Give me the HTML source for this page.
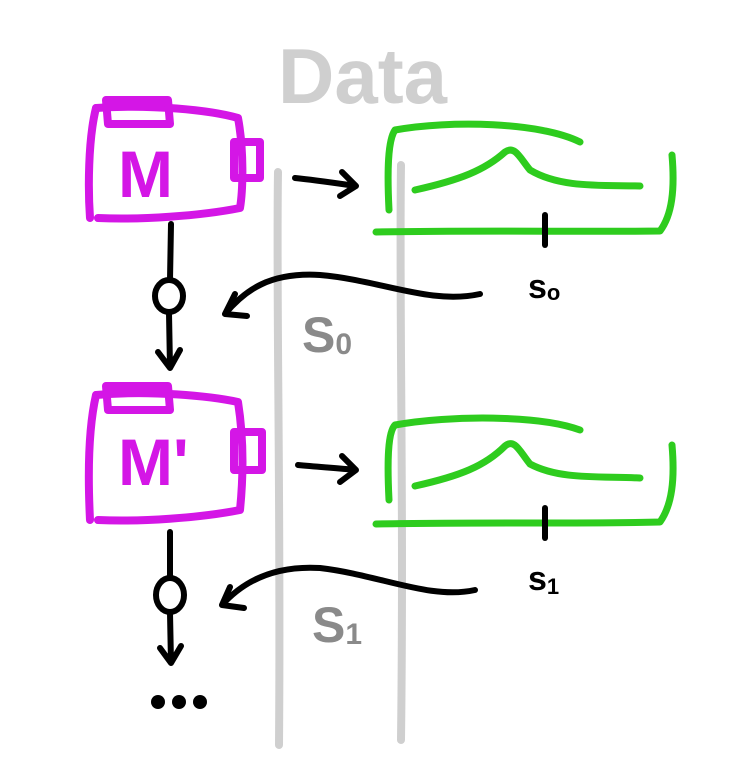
<!DOCTYPE html>
<html><head><meta charset="utf-8"><style>
html,body{margin:0;padding:0;background:#fff;width:754px;height:761px;overflow:hidden}
text{font-family:"Liberation Sans",sans-serif;font-weight:bold}
</style></head><body>
<svg width="754" height="761" viewBox="0 0 754 761" fill="none" stroke-linecap="round" stroke-linejoin="round">
<g>
<text x="278" y="103" font-size="78" fill="#cfcfcf" stroke="none">Data</text>
<path d="M278 172 C276 300 281 500 279 745" stroke="#cfcfcf" stroke-width="8"/>
<path d="M401 165 C399 300 404 500 401 740" stroke="#cfcfcf" stroke-width="8"/>
</g>
<g stroke="#d416e6" stroke-width="8">
<path d="M96 108 C88 140 88 190 90 218"/>
<path d="M96 108 C150 104 210 110 238 118 C244 150 243 190 240 208 C200 216 140 220 98 218"/>
<path d="M106 100 L168 100 L170 124 L108 124 Z"/>
<path d="M234 142 L260 142 L260 178 L234 178 Z"/>
<text x="118" y="197" font-size="66" fill="#d416e6" stroke="none">M</text>
</g>
<g stroke="#d416e6" stroke-width="8">
<path d="M96 395 C88 430 88 480 90 520"/>
<path d="M96 395 C150 390 210 396 238 402 C244 440 243 480 240 510 C200 518 140 522 98 520"/>
<path d="M106 386 L168 386 L170 410 L108 410 Z"/>
<path d="M234 432 L262 432 L262 470 L234 470 Z"/>
<text x="118" y="485" font-size="66" fill="#d416e6" stroke="none">M'</text>
</g>
<g stroke="#000" stroke-width="6">
<path d="M171 224 L170 280"/>
<ellipse cx="169" cy="296" rx="14" ry="16"/>
<path d="M169 313 L170 368 M158 352 L170 368 L180 350"/>
<path d="M170 532 L170 578"/>
<ellipse cx="170" cy="595" rx="14" ry="17"/>
<path d="M170 613 L171 663 M160 648 L171 663 L181 646"/>
<path d="M295 178 C315 180 335 183 356 186 M342 172 L356 186 L340 196"/>
<path d="M298 465 C318 467 338 468 356 470 M342 456 L356 470 L340 482"/>
<path d="M480 294 C430 305 380 280 320 275 C270 272 245 290 225 314 M235 294 L225 314 L247 316"/>
<path d="M475 590 C430 600 380 575 320 568 C270 565 240 585 222 605 M230 587 L222 605 L244 608"/>
</g>
<g fill="#000">
<circle cx="158" cy="702" r="7"/><circle cx="179" cy="702" r="7"/><circle cx="200" cy="702" r="7"/>
</g>
<g stroke="#2ecc1e" stroke-width="7">
<path d="M389 210 C387 170 388 140 395 130 C450 120 540 122 580 142"/>
<path d="M415 190 C460 180 485 170 505 152 C515 145 520 158 530 170 C560 188 600 185 640 186"/>
<path d="M376 232 C480 230 580 232 660 231 C672 215 675 190 672 155"/>
</g>
<g stroke="#2ecc1e" stroke-width="7">
<path d="M389 500 C387 460 388 432 395 425 C450 415 540 415 580 430"/>
<path d="M415 486 C460 476 485 466 505 446 C515 438 520 452 530 464 C560 480 600 476 640 478"/>
<path d="M376 524 C480 522 580 524 660 522 C672 505 675 480 672 445"/>
</g>
<g stroke="#000" stroke-width="6">
<path d="M545 215 L545 245"/><path d="M545 508 L545 538"/>
</g>
<text x="528" y="298" font-size="34" fill="#000">s<tspan font-size="22" dy="2">o</tspan></text>
<text x="528" y="590" font-size="34" fill="#000">s<tspan font-size="22" dy="4">1</tspan></text>
<text x="302" y="352" font-size="50" fill="#8a8a8a">S<tspan font-size="30" dy="2">0</tspan></text>
<text x="312" y="642" font-size="50" fill="#8a8a8a">S<tspan font-size="30" dy="2">1</tspan></text>
</svg>
</body></html>
